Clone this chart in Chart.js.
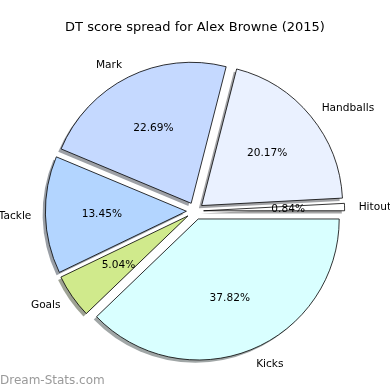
<!DOCTYPE html>
<html>
<head>
<meta charset="utf-8">
<script src="https://cdn.jsdelivr.net/npm/chart.js@4/dist/chart.umd.min.js"></script>
<style>
  html, body { margin: 0; padding: 0; background: #fff; }
  #wrap { width: 390px; height: 390px; position: relative; }
</style>
</head>
<body>
<div id="wrap"><canvas id="spreadChart"></canvas></div>
<script>
// Categories in drawing order (clockwise from 3 o'clock)
const categories = ['Kicks', 'Goals', 'Tackle', 'Mark', 'Handballs', 'Hitout'];
// DT score counts
const scores = [45, 6, 16, 27, 24, 1];
const sliceColors = ['#d9ffff', '#d0ea8c', '#b3d5ff', '#c5d9ff', '#eaf1ff', '#ffffff'];

const EXPLODE = 8.6;   // px each slice is pushed out
const SHADOW = 2.8;    // px shadow offset (left / down)

function hexToRgb(hex) {
    const n = parseInt(hex.slice(1), 16);
    return [(n >> 16) & 255, (n >> 8) & 255, n & 255];
}

// push every slice outward along its middle angle
const explodePlugin = {
    id: 'explode',
    afterDatasetUpdate(chart, args) {
        args.meta.data.forEach(function(arc) {
            const mid = (arc.startAngle + arc.endAngle) / 2;
            arc.x += Math.cos(mid) * EXPLODE;
            arc.y += Math.sin(mid) * EXPLODE;
        });
    }
};

// grey copies of the slices, drawn underneath
const shadowPlugin = {
    id: 'pieShadow',
    beforeDatasetsDraw(chart) {
        const ctx = chart.ctx;
        const meta = chart.getDatasetMeta(0);
        meta.data.forEach(function(arc, i) {
            const rgb = hexToRgb(sliceColors[i]);
            const col = 'rgba(' + rgb.map(v => Math.round(v * 0.3)).join(',') + ',0.5)';
            const x = arc.x - SHADOW, y = arc.y + SHADOW;
            ctx.save();
            ctx.beginPath();
            ctx.moveTo(x, y);
            ctx.arc(x, y, arc.outerRadius, arc.startAngle, arc.endAngle);
            ctx.closePath();
            ctx.fillStyle = col;
            ctx.fill();
            ctx.restore();
        });
    }
};

// category names outside, percentages inside
const labelPlugin = {
    id: 'sliceLabels',
    afterDatasetsDraw(chart) {
        const ctx = chart.ctx;
        const meta = chart.getDatasetMeta(0);
        const total = scores.reduce((a, b) => a + b, 0);
        ctx.save();
        ctx.fillStyle = '#000';
        ctx.font = '10.6px "DejaVu Sans"';
        ctx.textBaseline = 'middle';
        meta.data.forEach(function(arc, i) {
            const mid = (arc.startAngle + arc.endAngle) / 2;
            const r = arc.outerRadius;
            const c = Math.cos(mid), s = Math.sin(mid);
            ctx.textAlign = c >= 0 ? 'left' : 'right';
            ctx.fillText(categories[i], arc.x + c * r * 1.1, arc.y + s * r * 1.1 + 1);
            ctx.textAlign = 'center';
            const pct = (scores[i] / total * 100).toFixed(2) + '%';
            ctx.fillText(pct, arc.x + c * r * 0.6, arc.y + s * r * 0.6 + 1);
        });
        ctx.restore();
    }
};

const watermarkPlugin = {
    id: 'watermark',
    afterDraw(chart) {
        const ctx = chart.ctx;
        ctx.save();
        ctx.font = '12px "DejaVu Sans"';
        ctx.fillStyle = '#9a9a9a';
        ctx.textAlign = 'left';
        ctx.textBaseline = 'alphabetic';
        ctx.fillText('Dream-Stats.com', 0, 384);
        ctx.restore();
    }
};

document.addEventListener("DOMContentLoaded", function() {
    const ctx = document.getElementById('spreadChart').getContext('2d');
    new Chart(ctx, {
        type: 'pie',
        data: {
            labels: categories,
            datasets: [{
                data: scores,
                backgroundColor: sliceColors,
                borderColor: '#000',
                borderWidth: 0.8,
                borderJoinStyle: 'miter'
            }]
        },
        options: {
            responsive: true,
            maintainAspectRatio: false,
            animation: false,
            rotation: 90,
            radius: 141,
            layout: { padding: { top: 0, bottom: 13, left: 0, right: 0 } },
            plugins: {
                legend: { display: false },
                tooltip: { enabled: false },
                title: {
                    display: true,
                    text: 'DT score spread for Alex Browne (2015)',
                    color: '#000',
                    font: { family: 'DejaVu Sans', size: 13, weight: 'normal' },
                    padding: { top: 20, bottom: 9.4 }
                }
            }
        },
        plugins: [explodePlugin, shadowPlugin, labelPlugin, watermarkPlugin]
    });
});
</script>
</body>
</html>
